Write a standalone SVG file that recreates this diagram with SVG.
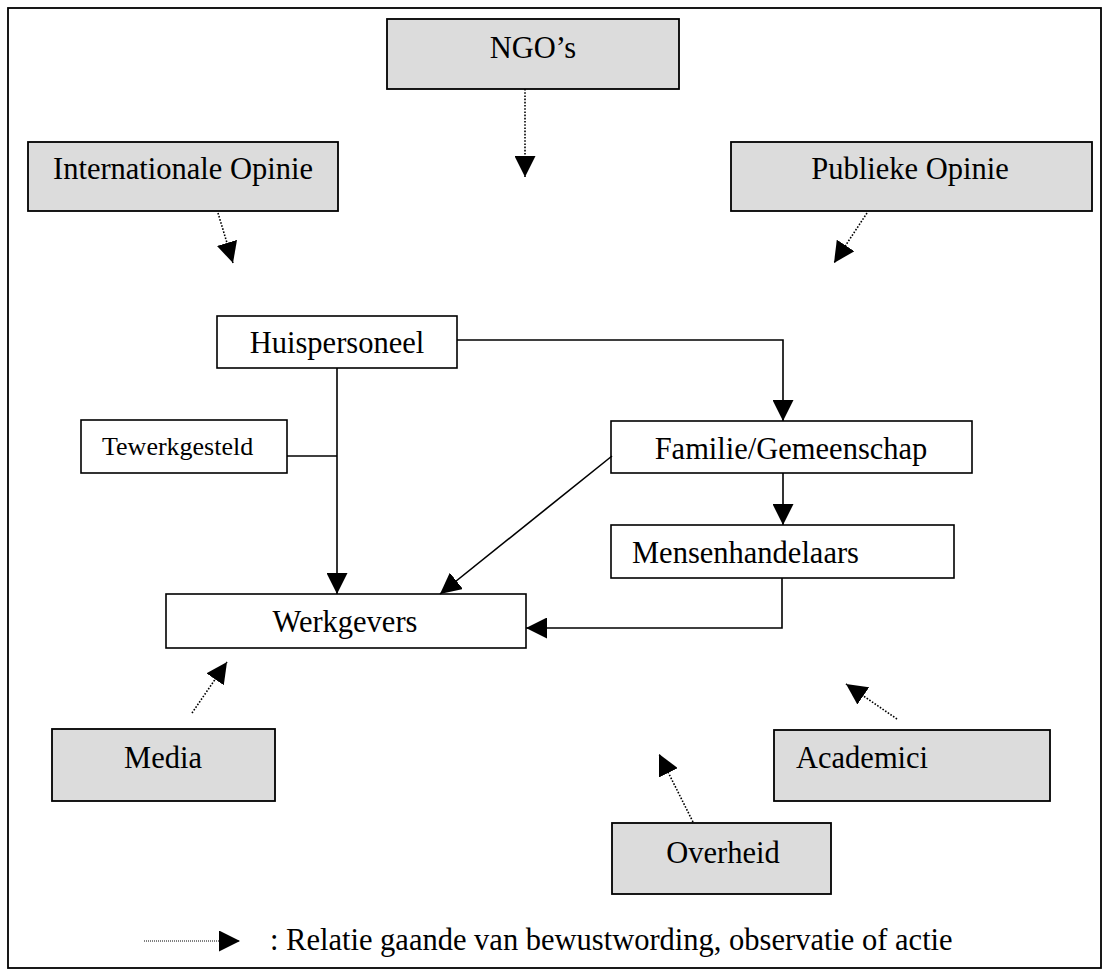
<svg xmlns="http://www.w3.org/2000/svg" width="1111" height="976" viewBox="0 0 1111 976">
<style>
  .box { fill: #ffffff; stroke: #000; stroke-width: 1.6; }
  .grey { fill: #dcdcdc; stroke: #000; stroke-width: 1.8; }
  .t { font-family: "Liberation Serif", "Times New Roman", serif; font-size: 30.5px; fill: #000; }
  .ts { font-family: "Liberation Serif", "Times New Roman", serif; font-size: 26px; fill: #000; }
  .solid { fill: none; stroke: #000; stroke-width: 1.6; }
  .dot { fill: none; stroke: #000; stroke-width: 1.6; stroke-dasharray: 1.6 1.6; }
  .dotf { fill: none; stroke: #000; stroke-width: 1; stroke-dasharray: 1 1; }
</style>
<defs>
  <marker id="ah" markerUnits="userSpaceOnUse" markerWidth="21" markerHeight="21" refX="20" refY="10" orient="auto" viewBox="0 0 20 20">
    <path d="M0,0 L20,10 L0,20 z" fill="#000"/>
  </marker>
</defs>
<rect x="8" y="8" width="1093" height="960" fill="#fff" stroke="#000" stroke-width="1.8"/>

<g id="ngos"><rect class="grey" x="387" y="19" width="292" height="70"/><text class="t" x="533" y="58" text-anchor="middle">NGO’s</text></g>
<g id="internationale-opinie"><rect class="grey" x="28" y="142" width="310" height="69"/><text class="t" x="183" y="179" text-anchor="middle">Internationale Opinie</text></g>
<g id="publieke-opinie"><rect class="grey" x="731" y="142" width="361" height="69"/><text class="t" x="910" y="179" text-anchor="middle">Publieke Opinie</text></g>
<g id="huispersoneel"><rect class="box" x="217" y="316" width="240" height="52"/><text class="t" x="337" y="353" text-anchor="middle">Huispersoneel</text></g>
<g id="tewerkgesteld"><rect class="box" x="81" y="420" width="206" height="53"/><text class="ts" x="102" y="455">Tewerkgesteld</text></g>
<g id="familie"><rect class="box" x="611" y="421" width="361" height="52"/><text class="t" x="791" y="459" text-anchor="middle">Familie/Gemeenschap</text></g>
<g id="mensenhandelaars"><rect class="box" x="611" y="525" width="343" height="53"/><text class="t" x="632" y="563">Mensenhandelaars</text></g>
<g id="werkgevers"><rect class="box" x="166" y="594" width="360" height="54"/><text class="t" x="345" y="632" text-anchor="middle">Werkgevers</text></g>
<g id="media"><rect class="grey" x="52" y="729" width="223" height="72"/><text class="t" x="163" y="768" text-anchor="middle">Media</text></g>
<g id="academici"><rect class="grey" x="774" y="730" width="276" height="71"/><text class="t" x="796" y="768">Academici</text></g>
<g id="overheid"><rect class="grey" x="612" y="823" width="219" height="71"/><text class="t" x="723" y="863" text-anchor="middle">Overheid</text></g>

<g id="connectors">
  <path class="dot" d="M525,89 L525,177" marker-end="url(#ah)"/>
  <path class="dot" d="M218,213 L233,263" marker-end="url(#ah)"/>
  <path class="dot" d="M867,213 L834,263" marker-end="url(#ah)"/>
  <path class="dot" d="M192,713 L227,662" marker-end="url(#ah)"/>
  <path class="dot" d="M897,719 L846,684" marker-end="url(#ah)"/>
  <path class="dot" d="M693,822 L659,754" marker-end="url(#ah)"/>
  <path class="solid" d="M457,340 L783,340 L783,421" marker-end="url(#ah)"/>
  <path class="solid" d="M337,368 L337,594" marker-end="url(#ah)"/>
  <path class="solid" d="M287,456 L337,456"/>
  <path class="solid" d="M612,456 L440,594" marker-end="url(#ah)"/>
  <path class="solid" d="M783,473 L783,525" marker-end="url(#ah)"/>
  <path class="solid" d="M782,578 L782,628 L526,628" marker-end="url(#ah)"/>
</g>

<g id="legend">
  <path class="dotf" d="M144,941 L240,941" marker-end="url(#ah)"/>
  <text class="t" x="270" y="950">: Relatie gaande van bewustwording, observatie of actie</text>
</g>
</svg>
